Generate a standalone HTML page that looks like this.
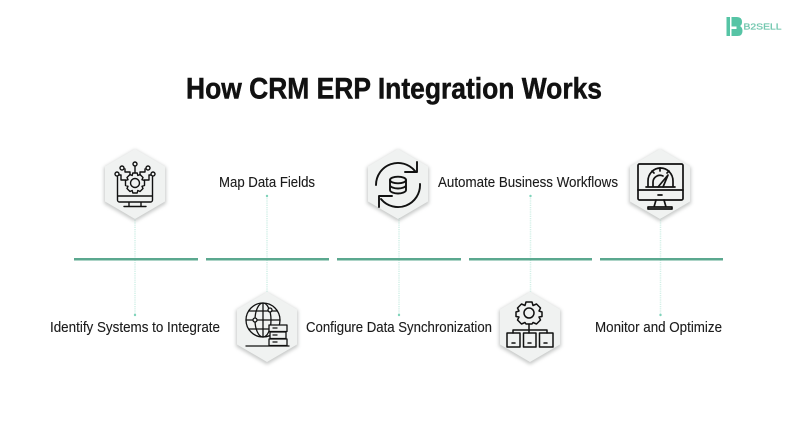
<!DOCTYPE html>
<html><head><meta charset="utf-8"><style>
html,body{margin:0;padding:0;background:#fff}
svg{display:block}
text{font-family:"Liberation Sans Narrow","Liberation Sans",sans-serif;fill:#1b1b1b}
.l{font-size:15px;stroke:#1b1b1b;stroke-width:.12px}
.i{fill:none;stroke:#111;stroke-width:1.700;stroke-linejoin:round;stroke-linecap:round}
</style></head><body>
<svg width="800" height="429" viewBox="0 0 800 429" xmlns="http://www.w3.org/2000/svg">
<defs>
<filter id="s" x="-30%" y="-30%" width="160%" height="160%"><feGaussianBlur stdDeviation="1.800"/></filter>
<g id="hex">
<polygon points="0,-36 31,-18 31,18 0,36 -31,18 -31,-18" fill="#a3a6a4" opacity=".6" filter="url(#s)" transform="translate(0,1.500)"/>
<polygon points="0,-35 30,-17.500 30,17.500 0,35 -30,17.500 -30,-17.500" fill="#f0f2f1"/>
</g>
</defs>
<rect width="800" height="429" fill="#fff"/>

<!-- logo -->
<g fill="#56c4a5">
<rect x="726.500" y="17" width="3.500" height="19"/>
<path d="M731.500 17h5.500q5 0 5 5 0 3-2 4 2.500 1.500 2.500 5 0 5-5 5h-6v-7h5v-2.500h-5z"/>
</g>
<text x="743.500" y="29.500" font-size="8.500" textLength="38" lengthAdjust="spacingAndGlyphs" style="fill:#6fc6ad;stroke:#6fc6ad;stroke-width:.25px">B2SELL</text>

<!-- title -->
<text x="186" y="98.500" font-size="30" font-weight="bold" textLength="416" lengthAdjust="spacingAndGlyphs" style="fill:#111;stroke:#111;stroke-width:.5px">How CRM ERP Integration Works</text>

<!-- dotted connectors -->
<g stroke="#d2f0e7" stroke-width="1.500" stroke-dasharray="1.200 1" fill="none">
<path d="M135 218V315M267 196V294M399 218V315M530.500 196V294M660.500 218V315"/>
</g>
<g fill="#7fd3ba">
<circle cx="135" cy="315" r="1.200"/><circle cx="267" cy="196" r="1.200"/><circle cx="399" cy="315" r="1.200"/><circle cx="530.500" cy="196" r="1.200"/><circle cx="660.500" cy="315" r="1.200"/>
</g>

<!-- horizontal segments -->
<g fill="#5ba88f">
<rect x="74" y="258" width="124" height="2.500"/>
<rect x="206" y="258" width="123" height="2.500"/>
<rect x="337" y="258" width="124" height="2.500"/>
<rect x="469" y="258" width="123" height="2.500"/>
<rect x="600" y="258" width="123" height="2.500"/>
</g>

<!-- labels -->
<text class="l" x="219" y="187" textLength="96" lengthAdjust="spacingAndGlyphs">Map Data Fields</text>
<text class="l" x="438" y="187" textLength="180" lengthAdjust="spacingAndGlyphs">Automate Business Workflows</text>
<text class="l" x="50" y="332" textLength="170" lengthAdjust="spacingAndGlyphs">Identify Systems to Integrate</text>
<text class="l" x="306" y="332" textLength="186" lengthAdjust="spacingAndGlyphs">Configure Data Synchronization</text>
<text class="l" x="595" y="332" textLength="127" lengthAdjust="spacingAndGlyphs">Monitor and Optimize</text>

<!-- hex 1 : monitor + gear + circuit -->
<use href="#hex" x="135" y="184"/>
<g class="i" transform="translate(135,185)" style="stroke-width:1.400">
<path d="M-17.500 -8V11H-9M17.500 -8V11H9M-17.500 11V15a2 2 0 0 0 2 2H15.500a2 2 0 0 0 2-2V11M-9 11H9M-6 17V21M6 17V21M-11 21.500H11"/>
<circle cx="0" cy="-2" r="4.500"/>
<path d="M-2.200-12H2.200L2.800-9.500 5-10.500 8-7.500 7-5.300 9.500-4.500V.5L7 1.300 8 3.500 5 6.500 2.800 5.500 2.200 8H-2.200L-2.800 5.500-5 6.500-8 3.500-7 1.300-9.500.5V-4.500L-7-5.300-8-7.500-5-10.500-2.800-9.500Z"/>
<path d="M0-12V-19M-5-10V-13H-10V-16M5-10V-13H10V-16M-9-5H-14V-10H-16M9-5H14V-10H16"/>
<circle cx="0" cy="-21" r="2" fill="#f0f2f1"/><circle cx="-13" cy="-17" r="2" fill="#f0f2f1"/><circle cx="13" cy="-17" r="2" fill="#f0f2f1"/><circle cx="-18" cy="-11" r="2" fill="#f0f2f1"/><circle cx="18" cy="-11" r="2" fill="#f0f2f1"/>
</g>

<!-- hex 2 : globe + servers -->
<use href="#hex" x="267" y="327"/>
<g class="i" transform="translate(267,328)" style="stroke-width:1.300">
<circle cx="-4" cy="-8" r="17"/>
<ellipse cx="-4" cy="-8" rx="8" ry="17"/>
<path d="M-4-25V9M-21-8H13M-18-17H10M-18 1H2"/>
<circle cx="-12" cy="-8" r="2" fill="#f0f2f1"/><circle cx="3" cy="-18" r="2" fill="#f0f2f1"/>
<rect x="2" y="-3" width="18" height="6.500" fill="#f0f2f1"/><rect x="3" y="4" width="16" height="6.500" fill="#f0f2f1"/><rect x="2" y="11" width="18" height="6.500" fill="#f0f2f1"/>
<path d="M-21 18H22M6 0H10M6 7H10M6 14H10"/>
</g>

<!-- hex 3 : sync + database -->
<use href="#hex" x="398" y="184"/>
<g class="i" transform="translate(398,185)" style="stroke-width:1.900">
<path d="M-22 0A22 22 0 0 1 17-14"/><path d="M22-1A22 22 0 0 1-17 14"/>
<path d="M19-23V-13H7"/><path d="M-19 22V11H-6"/>
<ellipse cx="0" cy="-5" rx="8" ry="3.300"/>
<path d="M-8-5V5C-8 7-4 8.500 0 8.500S8 7 8 5V-5M-8 0C-8 2-4 3.500 0 3.500S8 2 8 0"/>
</g>

<!-- hex 4 : gear + boxes -->
<use href="#hex" x="530" y="327"/>
<g class="i" transform="translate(530,328)" style="stroke-width:1.500">
<circle cx="-1" cy="-15" r="5"/>
<path d="M-4-26H2L3-22.500 6.500-24 10.500-20 9-17 12-16V-11.500L9-11 10.500-8 6.500-4 3-5.500 2-4H-4L-5-5.500-8.500-4-12.500-8-11-11-14-11.500V-16L-11-17-12.500-20-8.500-24-5-22.500Z"/>
<path d="M-1-4V5M-17 5V2H17V5"/>
<rect x="-23" y="5" width="13" height="14"/><rect x="-6.500" y="5" width="12.500" height="14"/><rect x="9.500" y="5" width="13.500" height="14"/>
<path d="M-18 15H-15M-2 15H1M14 15H17"/>
</g>

<!-- hex 5 : monitor + gauge -->
<use href="#hex" x="660" y="184"/>
<g class="i" transform="translate(660,185)" style="stroke-width:1.700">
<rect x="-22" y="-21" width="45" height="36" rx="1.500"/>
<path d="M-22 5H23M-2 10H2M-4 15L-6 22M4 15L6 22M-12 24H12V22H-12Z"/>
<path d="M-14 2H15M-12 2V-4A12.500 13 0 0 1 13-4V2M-7 2V-3A7 7 0 0 1 3-9M0-17V-14M-8-14L-6-12M9-14L7-12"/>
<path d="M-2 2L8-10 3 2"/>
</g>
</svg>
</body></html>
